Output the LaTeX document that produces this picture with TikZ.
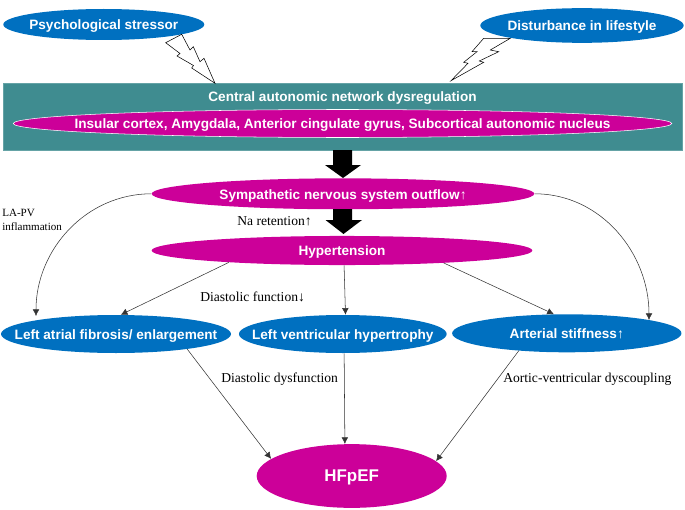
\documentclass[tikz,border=0pt]{standalone}
\usepackage{fontspec}
\setmainfont{Liberation Serif}
\setsansfont{Liberation Sans}
\usetikzlibrary{shapes.geometric,arrows.meta}
\definecolor{tealbox}{HTML}{3F8C90}
\definecolor{magentafill}{HTML}{CC0099}
\definecolor{bluefill}{HTML}{0070C0}
\begin{document}
\begin{tikzpicture}[
    x=0.75pt,y=-0.75pt,
    label/.style={text=white,font=\fontsize{10.2}{12}\selectfont\sffamily\bfseries,text height=1.05em,text depth=0.24em},
    blueell/.style={ellipse,fill=bluefill,inner xsep=-80pt,inner ysep=0pt,label},
    magell/.style={ellipse,fill=magentafill,inner xsep=-150pt,inner ysep=0pt,label},
    note/.style={font=\fontsize{10.2}{12}\selectfont,inner sep=0pt},
    link/.style={draw=black!80,-{Latex[length=5pt,width=5pt]},thin},
    bolt/.style={draw=black!75,fill=white,thin},
    bigarrow/.style={fill=black},
]
	\useasboundingbox (0,0) rectangle (685,510);
	\node [blueell,minimum width=150.75pt,minimum height=23.25pt] (stress) at (103.8,24.5) {Psychological stressor};
	\node [blueell,minimum width=152.5pt,minimum height=26pt] (life) at (582,25.5) {Disturbance in lifestyle};
	\node [draw=tealbox!80!white,fill=tealbox,minimum width=509pt,minimum height=50.5pt,inner sep=0pt] (cns) at (342.7,117) {};
	\node [label,inner sep=0pt] (cnstitle) at (342.5,96.5) {Central autonomic network dysregulation};
	\node [magell,draw=white,minimum width=494pt,minimum height=21pt] (insular) at (342.5,123.5) {Insular cortex, Amygdala, Anterior cingulate gyrus, Subcortical autonomic nucleus};
	\node [magell,minimum width=287pt,minimum height=23.2pt] (symp) at (343,193.8) {Sympathetic nervous system outflow↑};
	\node [magell,minimum width=285.5pt,minimum height=21.8pt] (htn) at (342,250.5) {Hypertension};
	\node [blueell,minimum width=172.5pt,minimum height=28.5pt] (atrial) at (116,334) {Left atrial fibrosis/ enlargement};
	\node [blueell,minimum width=155.8pt,minimum height=28.5pt] (ventr) at (342.8,334) {Left ventricular hypertrophy};
	\node [blueell,minimum width=172pt,minimum height=28.5pt] (arterial) at (566.8,333.3) {Arterial stiffness↑};
	\node [magell,minimum width=142.5pt,minimum height=47.8pt,font=\fontsize{12.7}{15}\selectfont\sffamily\bfseries] (hf) at (351.7,476) {HFpEF};
	\coordinate (atrialtip) at (36,316);
	\coordinate (arterialtip) at (649,320);
	{[bolt]
	\draw (181.7,34.3)--(190,50)--(193.3,46.7)--(200,61.7)--(204,58.3)--(215,83.3)--(191.7,68)--(193.5,65.5)--(177,56)--(180,53.5)--(165.7,42.7)--cycle; %left
	\draw (510.3,38.3)--(483.7,38.3)--(472,51.7)--(477,51.7)--(463.7,62.3)--(468,63.3)--(451,80.7)--(483.7,62.3)--(479.3,61)--(498.7,51.7)--(490.3,50)--cycle; %right
	}
	{[bigarrow]
	\fill (333,150)--(352,150)--(352,165)--(361,165)--(343,178)--(325,165)--(333,165)--cycle;
	\fill (333,209)--(352,209)--(352,220)--(362,220)--(343.5,234)--(325.5,220)--(333,220)--cycle;
	}
	\draw [link] (symp.west) to [out=180,in=90,looseness=1] (atrialtip);
	\draw [link] (symp.east) to [out=0,in=90,looseness=1] (arterialtip);
	\draw [link] (htn.186.3) -- (atrial.76);
	\draw [link] (htn.-82) -- (ventr.82);
	\draw [link] (htn.-7.4) -- (arterial.124);
	\draw [link] (atrial.-12) -- (hf.168.5);
	\draw [link] (ventr.-86) -- (hf.102);
	\draw [link] (arterial.200) -- (hf.10.6);
	\node [note,align=left,anchor=west,font=\fontsize{8.3}{10.5}\selectfont] (lapv) at (2,220) {LA-PV\\inflammation};
	\node [note,anchor=west] (na) at (237,221) {Na retention↑};
	\node [note,anchor=west] (diafn) at (200,297) {Diastolic function↓};
	\node [note,anchor=west] (diadys) at (221,379) {Diastolic dysfunction};
	\node [note,anchor=west] (aortic) at (503,379) {Aortic-ventricular dyscoupling};
\end{tikzpicture}
\end{document}
